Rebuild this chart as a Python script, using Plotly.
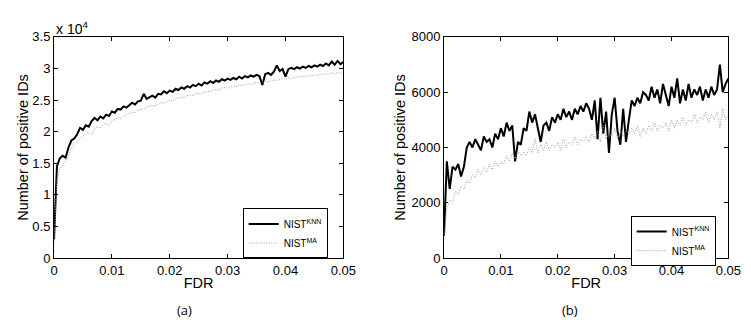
import plotly.graph_objects as go

# FDR grid (step 0.0005 from 0 to 0.05)
fdr = [round(i * 0.0005, 4) for i in range(101)]

# Panel (a): number of positive IDs
a_knn = [3000, 14500, 15800, 16200, 15900, 17500, 18600, 18900, 19600, 20600,
         20300, 21000, 20800, 21700, 22200, 21800, 22400, 22100, 22700, 22500,
         23200, 23000, 23600, 23500, 24000, 23800, 24200, 24600, 24300, 24800,
         24900, 26000, 25200, 25500, 25700, 25400, 26000, 25900, 26400, 26100,
         26500, 26300, 26800, 26600, 27000, 26800, 27200, 27000, 27400, 27200,
         27600, 27300, 27800, 27600, 28000, 27700, 28100, 27900, 28300, 28100,
         28400, 28200, 28500, 28300, 28700, 28400, 28800, 28600, 28900, 28700,
         29000, 28800, 27400, 29100, 29300, 29000, 29500, 30500, 29600, 29900,
         28700, 29900, 30100, 29900, 30200, 30000, 30300, 30100, 30400, 30200,
         30500, 30300, 30600, 30400, 30800, 30500, 31100, 30600, 31200, 30700,
         31000]
a_ma = [2500, 12500, 14000, 14800, 15200, 16300, 17300, 18000, 18500, 18900,
        19300, 19700, 20000, 19500, 20400, 20800, 20600, 21100, 21300, 21000,
        21700, 21900, 22200, 22000, 22500, 22700, 22900, 23100, 23000, 23400,
        23600, 23500, 23900, 24000, 24200, 24100, 24400, 24600, 24500, 24800,
        25000, 24900, 25200, 25300, 25500, 25400, 25700, 25800, 25700, 26000,
        26100, 26000, 26300, 26400, 26300, 26600, 26700, 26600, 26900, 27000,
        26900, 27100, 27200, 27100, 27400, 27300, 27500, 27600, 27500, 27700,
        27800, 27700, 27900, 28000, 27900, 28100, 28200, 28100, 28300, 28400,
        28300, 28500, 28400, 28600, 28700, 28600, 28800, 28700, 28900, 28800,
        29000, 28900, 29100, 29000, 29200, 29100, 29300, 29200, 29400, 29200,
        29400]

# Panel (b)
b_knn = [800, 3500, 2500, 3300, 3200, 3400, 2950, 3300, 4000, 4200,
         4000, 4300, 4100, 3900, 4400, 4200, 4300, 4000, 4500, 4300,
         4700, 4400, 4900, 4600, 4800, 3500, 4200, 4100, 4700, 4600,
         5300, 4900, 5200, 4700, 4200, 4800, 4900, 4600, 5100, 4900,
         5200, 5000, 5400, 5100, 5300, 5000, 5400, 5200, 5500, 5300,
         5600, 5400, 5000, 5700, 4300, 5800, 4500, 5300, 3800, 5200,
         5800, 4600, 4100, 5400, 4200, 5000, 5700, 5500, 5800, 5600,
         6000, 5900, 5700, 6200, 5800, 6100, 5600, 6300, 5900, 5500,
         6200, 5800, 6500, 5600, 6100, 5700, 6300, 5800, 6100, 5900,
         6200, 5700, 6100, 5800, 6200, 5900, 6100, 7000, 6000, 6300,
         6500]
b_ma = [700, 1800, 2100, 2000, 2400, 2300, 2600, 2500, 2800, 2700,
        3000, 2900, 3200, 3000, 3300, 3100, 3400, 3200, 3500, 3300,
        3500, 3400, 3700, 3500, 3800, 3600, 3900, 3700, 3850, 3700,
        4000, 3800, 4300, 3800, 4100, 3900, 4200, 3900, 4100, 4000,
        4200, 3900, 4300, 4000, 4200, 4100, 4400, 4100, 4300, 4200,
        4400, 4200, 4500, 4300, 4600, 4200, 4800, 4300, 4500, 4400,
        4700, 4300, 4600, 4400, 4600, 4500, 4700, 4500, 4800, 4400,
        4700, 4500, 4800, 4600, 4900, 4600, 4800, 4700, 4900, 4600,
        5000, 4700, 5000, 4800, 5100, 4800, 5000, 4900, 5200, 4900,
        5100, 5000, 5300, 4900, 5200, 5000, 5300, 4700, 5400, 5000,
        5200]

x_ticks = [0, 0.01, 0.02, 0.03, 0.04, 0.05]
x_ticktext = ["0", "0.01", "0.02", "0.03", "0.04", "0.05"]
a_yticks = [0, 5000, 10000, 15000, 20000, 25000, 30000, 35000]
a_ytext = ["0", "0.5", "1", "1.5", "2", "2.5", "3", "3.5"]
b_yticks = [0, 2000, 4000, 6000, 8000]
b_ytext = ["0", "2000", "4000", "6000", "8000"]

name_knn = "NIST<sup>KNN</sup>"
name_ma = "NIST<sup>MA</sup>"

FONT = "Liberation Sans, Arial, sans-serif"
fig = go.Figure()

knn_line = dict(color="black", width=2)
ma_line = dict(color="#9a9a9a", width=1, dash="1px,1.5px")

fig.add_trace(go.Scatter(x=fdr, y=a_knn, mode="lines", line=knn_line, name=name_knn,
                         xaxis="x", yaxis="y", legend="legend"))
fig.add_trace(go.Scatter(x=fdr, y=a_ma, mode="lines", line=ma_line, name=name_ma,
                         xaxis="x", yaxis="y", legend="legend"))
fig.add_trace(go.Scatter(x=fdr, y=b_knn, mode="lines", line=knn_line, name=name_knn,
                         xaxis="x2", yaxis="y2", legend="legend2"))
fig.add_trace(go.Scatter(x=fdr, y=b_ma, mode="lines", line=ma_line, name=name_ma,
                         xaxis="x2", yaxis="y2", legend="legend2"))

ax_common = dict(showline=True, linecolor="black", linewidth=1, mirror="ticks",
                 ticks="inside", ticklen=4, tickwidth=1, tickcolor="black",
                 showgrid=False, zeroline=False,
                 tickfont=dict(family=FONT, size=13, color="black"))
ydom = [1 - 255 / 320, 1 - 23 / 320]
title_font = dict(family=FONT, size=14.5, color="black")
leg_font = dict(family=FONT, size=10, color="black")

fig.update_layout(
    width=751, height=320,
    margin=dict(l=0, r=0, t=0, b=0),
    paper_bgcolor="white", plot_bgcolor="white",
    showlegend=True,
    xaxis=dict(domain=[43 / 751, 339 / 751], range=[0, 0.05], anchor="y",
               tickvals=x_ticks, ticktext=x_ticktext,
               title=dict(text="FDR", font=title_font, standoff=1),
               **ax_common),
    yaxis=dict(domain=ydom, range=[0, 35000], anchor="x",
               tickvals=a_yticks, ticktext=a_ytext,
               title=dict(text="Number of positive IDs", font=title_font, standoff=0),
               **ax_common),
    xaxis2=dict(domain=[442 / 751, 733 / 751], range=[0, 0.05], anchor="y2",
                tickvals=x_ticks, ticktext=x_ticktext,
                title=dict(text="FDR", font=title_font, standoff=1),
                **ax_common),
    yaxis2=dict(domain=ydom, range=[0, 8000], anchor="x2",
                tickvals=b_yticks, ticktext=b_ytext,
                title=dict(text="Number of positive IDs", font=title_font, standoff=2),
                **ax_common),
    legend=dict(x=323 / 751, y=1 - 203 / 320, xanchor="right", yanchor="top",
                bgcolor="white", bordercolor="black", borderwidth=1,
                font=leg_font, tracegroupgap=0, itemwidth=30),
    legend2=dict(x=720 / 751, y=1 - 211 / 320, xanchor="right", yanchor="top",
                 bgcolor="white", bordercolor="black", borderwidth=1,
                 font=leg_font, tracegroupgap=0, itemwidth=30),
    annotations=[
        dict(text="x 10<sup>4</sup>", x=43 / 751, y=1 - 14 / 320, xref="paper", yref="paper",
             xanchor="left", yanchor="middle", showarrow=False,
             font=dict(family=FONT, size=14, color="black")),
        dict(text="(a)", x=177 / 751, y=1 - 309 / 320, xref="paper", yref="paper",
             xanchor="center", yanchor="middle", showarrow=False,
             font=dict(family="Open Sans, sans-serif", size=13, color="black")),
        dict(text="(b)", x=571 / 751, y=1 - 309 / 320, xref="paper", yref="paper",
             xanchor="center", yanchor="middle", showarrow=False,
             font=dict(family="Open Sans, sans-serif", size=13, color="black")),
    ],
)

fig.write_html("out.html")
